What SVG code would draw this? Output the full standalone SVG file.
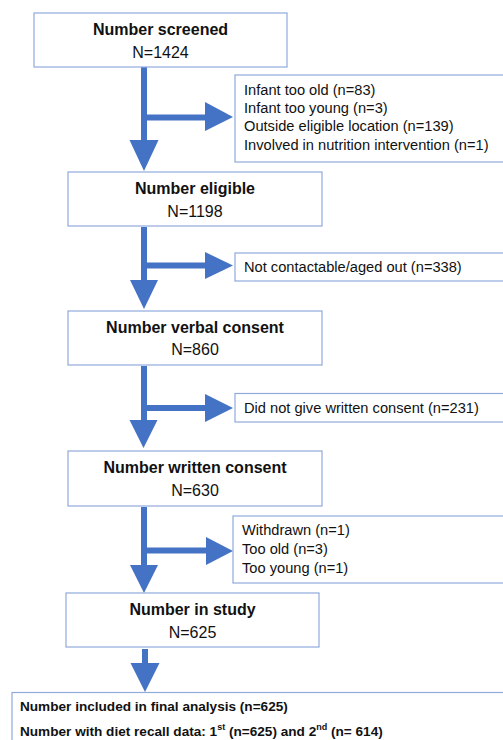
<svg xmlns="http://www.w3.org/2000/svg" width="503" height="740" viewBox="0 0 503 740">
<style>
.box{fill:#fff;stroke:#8FAADC;stroke-width:1.2}
.t{font-family:"Liberation Sans",Arial,sans-serif;font-size:16px;fill:#111;text-anchor:middle}
.b{font-weight:bold}
.s{font-family:"Liberation Sans",Arial,sans-serif;font-size:14.65px;fill:#111}
.f{font-family:"Liberation Sans",Arial,sans-serif;font-size:13.6px;font-weight:bold;fill:#111}
.sup{font-size:9px}
.ar{fill:#4472C4}
</style>
<rect width="503" height="740" fill="#fff"/>
<g id="connectors" class="ar">
  <rect x="141" y="67" width="6" height="74"/>
  <rect x="144" y="114.5" width="62" height="6"/>
  <polygon points="205,102 233,117 205,131"/>
  <polygon points="129.5,140 158.5,140 144,171"/>
  <rect x="141" y="227" width="6" height="54"/>
  <rect x="144" y="262.5" width="62" height="6"/>
  <polygon points="205,252 233,265.5 205,279"/>
  <polygon points="130,280 158,280 144,309"/>
  <rect x="141" y="366" width="6" height="55"/>
  <rect x="144" y="405" width="62" height="6"/>
  <polygon points="205,394 233,408 205,422"/>
  <polygon points="129.5,420 157.5,420 143.5,448"/>
  <rect x="141" y="507" width="6" height="59"/>
  <rect x="144" y="547.5" width="64" height="6"/>
  <polygon points="206,537 233,551 206,565"/>
  <polygon points="130,565 158,565 144,593"/>
  <rect x="142" y="649" width="6" height="15"/>
  <polygon points="130.5,663 159.5,663 145,692"/>
</g>
<g id="n1"><rect class="box" x="34" y="13" width="253" height="54"/>
<text class="t b" x="160.5" y="34.5">Number screened</text><text class="t" x="160.5" y="57.5">N=1424</text></g>
<g id="e1"><rect class="box" x="235" y="75" width="280" height="87"/>
<text class="s" x="244" y="95">Infant too old (n=83)</text>
<text class="s" x="244" y="113">Infant too young (n=3)</text>
<text class="s" x="244" y="131">Outside eligible location (n=139)</text>
<text class="s" x="244" y="149.5">Involved in nutrition intervention (n=1)</text></g>
<g id="n2"><rect class="box" x="68" y="172" width="254" height="54"/>
<text class="t b" x="195" y="194">Number eligible</text><text class="t" x="195" y="216.5">N=1198</text></g>
<g id="e2"><rect class="box" x="235" y="253" width="280" height="28"/>
<text class="s" x="244" y="272">Not contactable/aged out (n=338)</text></g>
<g id="n3"><rect class="box" x="68" y="311" width="254" height="54"/>
<text class="t b" x="195" y="332.5">Number verbal consent</text><text class="t" x="195" y="355">N=860</text></g>
<g id="e3"><rect class="box" x="235" y="393.5" width="280" height="28.5"/>
<text class="s" x="244" y="412.5">Did not give written consent (n=231)</text></g>
<g id="n4"><rect class="box" x="68" y="451" width="254" height="55"/>
<text class="t b" x="195" y="473">Number written consent</text><text class="t" x="195" y="495.5">N=630</text></g>
<g id="e4"><rect class="box" x="233" y="516" width="280" height="67"/>
<text class="s" x="242" y="535">Withdrawn (n=1)</text>
<text class="s" x="242" y="554">Too old (n=3)</text>
<text class="s" x="242" y="573">Too young (n=1)</text></g>
<g id="n5"><rect class="box" x="66" y="593" width="253" height="54"/>
<text class="t b" x="192.5" y="615">Number in study</text><text class="t" x="192.5" y="637.5">N=625</text></g>
<g id="n6"><rect class="box" x="12" y="692.5" width="510" height="60"/>
<text class="f" x="20" y="711">Number included in final analysis (n=625)</text>
<text class="f" x="20" y="735.5">Number with diet recall data: 1<tspan class="sup" dy="-6">st</tspan><tspan dy="6"> (n=625) and 2</tspan><tspan class="sup" dy="-6">nd</tspan><tspan dy="6"> (n= 614)</tspan></text></g>
</svg>
